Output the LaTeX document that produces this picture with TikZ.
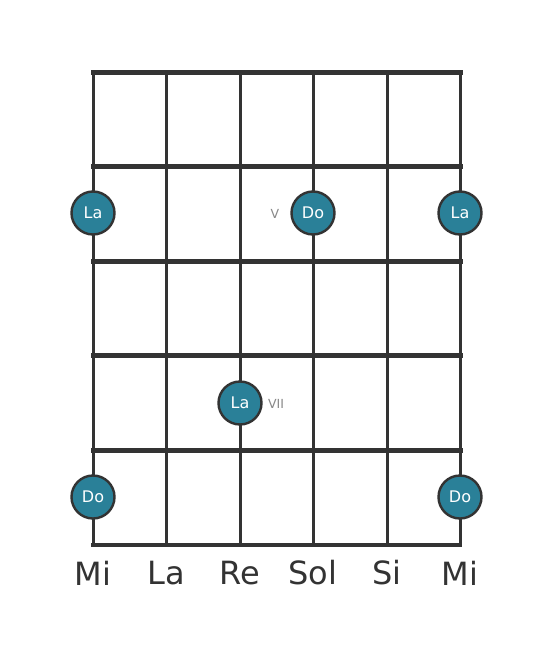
\documentclass[tikz,border=0pt]{standalone}
\usepackage{fontspec}
\setmainfont{DejaVu Sans}
\definecolor{ink}{HTML}{333333}
\definecolor{tealc}{HTML}{2A8098}
\definecolor{grayt}{HTML}{888888}
\begin{document}
\begin{tikzpicture}[x=1pt,y=-1pt,
  stringline/.style={draw=ink,line width=3pt},
  fretline/.style={draw=ink,line width=5pt},
  dot/.style={circle,fill=tealc,draw=ink,line width=2.4pt,minimum size=43pt,inner sep=0pt,text=white,font=\fontsize{16}{16}\selectfont},
  lbl/.style={text=ink,font=\fontsize{32}{32}\selectfont},
  poslabel/.style={text=grayt,font=\fontsize{12.5}{12.5}\selectfont}]
\useasboundingbox[fill=white] (0,0) rectangle (553,656);
\foreach \x in {93,166,240,313,387,460} \draw[stringline] (\x,72) -- (\x,545);
\foreach \y in {72,166,261,355,450} \draw[fretline,line cap=rect] (93,\y) -- (460,\y);
\draw[draw=ink,line width=4pt,line cap=rect] (93,545) -- (460,545);
\node[dot] (n1) at (93,213) {La};
\node[dot] (n2) at (313,213) {Do};
\node[dot] (n3) at (460,213) {La};
\node[dot] (n4) at (240,403) {La};
\node[dot] (n5) at (93,497) {Do};
\node[dot] (n6) at (460,497) {Do};
\node[poslabel] (p1) at (275,214) {V};
\node[poslabel] (p2) at (276,404) {VII};
\node[lbl] (s1) at (93,573) {Mi};
\node[lbl] (s2) at (166,573) {La};
\node[lbl] (s3) at (240,573) {Re};
\node[lbl] (s4) at (313,573) {Sol};
\node[lbl] (s5) at (387,573) {Si};
\node[lbl] (s6) at (460,573) {Mi};
\end{tikzpicture}
\end{document}
